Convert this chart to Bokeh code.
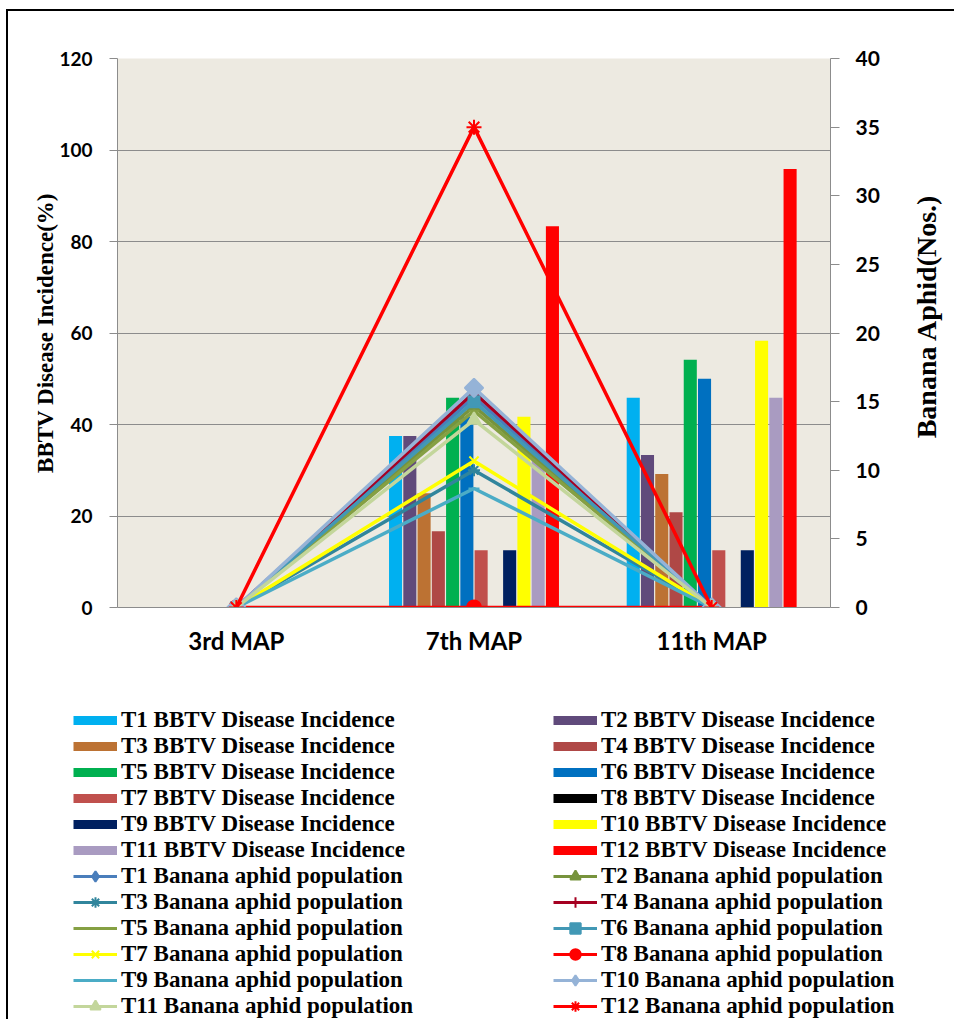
import math
from bokeh.plotting import figure
from bokeh.layouts import column, row
from bokeh.models import (FactorRange, Range1d, LinearAxis, FixedTicker, Legend, LegendItem,
                          ColumnDataSource)
from bokeh.core.properties import value
from bokeh.transform import dodge
from bokeh.embed import file_html
from bokeh.resources import INLINE

# ---------------- data ----------------
categories = ["3rd MAP", "7th MAP", "11th MAP"]
treatments = ["T1", "T2", "T3", "T4", "T5", "T6", "T7", "T8", "T9", "T10", "T11", "T12"]

# BBTV disease incidence (%) per treatment at each stage
incidence_3rd = [0, 0, 0, 0, 0, 0, 0, 0, 0, 0, 0, 0]
incidence_7th = [37.5, 37.5, 25.0, 16.67, 45.83, 41.67, 12.5, 0, 12.5, 41.67, 33.33, 83.33]
incidence_11th = [45.83, 33.33, 29.17, 20.83, 54.17, 50.0, 12.5, 0, 12.5, 58.33, 45.83, 95.83]

# Banana aphid population (Nos.) per treatment at each stage
aphid_3rd = [0, 0, 0, 0, 0, 0, 0, 0, 0, 0, 0, 0]
aphid_7th = [15.33, 14.67, 10.0, 15.67, 14.33, 15.0, 10.67, 0, 8.67, 16.0, 13.67, 35.0]
aphid_11th = [0, 0, 0, 0, 0, 0, 0, 0, 0, 0, 0, 0]

left_ticks = [0, 20, 40, 60, 80, 100, 120]
right_ticks = [0, 5, 10, 15, 20, 25, 30, 35, 40]

left_title = "BBTV Disease Incidence(%)"
right_title = "Banana Aphid(Nos.)"

# ---------------- styles ----------------
bar_colors = ["#00B0F0", "#604A7B", "#BC7233", "#AF4846", "#00B050", "#0070C0",
              "#C0504D", "#000000", "#002060", "#FFFF00", "#A99BC1", "#FF0000"]
line_colors = ["#4A7EBB", "#77933C", "#31859C", "#A50021", "#85A043", "#4298B5",
               "#FFFF00", "#FF0000", "#4BACC6", "#95B3D7", "#C3D69B", "#FF0000"]
markers = ["square", "triangle", "asterisk", "cross", "dash", "square",
           "x", "circle", "dash", "square", "triangle", "asterisk"]
legend_markers = ["diamond", "triangle", "asterisk", "cross", "dash", "square",
                  "x", "circle", "dash", "diamond", "triangle", "asterisk"]
marker_angles = [math.pi / 4, 0, 0, 0, 0, 0, 0, 0, 0, math.pi / 4, 0, 0]
marker_sizes = [11, 13, 12, 12, 11, 11, 13, 14, 11, 13, 13, 15]

# ---------------- main chart ----------------
p = figure(width=892, height=669, x_range=FactorRange(factors=categories, range_padding=0),
           y_range=Range1d(0, 120), output_backend="svg", toolbar_location=None,
           min_border_left=109, min_border_right=70, min_border_top=47, min_border_bottom=73)
p.extra_y_ranges = {"aphid": Range1d(0, 40)}
p.background_fill_color = "#EDEAE1"
p.border_fill_color = "white"
p.outline_line_color = None

p.xgrid.grid_line_color = None
p.ygrid.ticker = FixedTicker(ticks=left_ticks)
p.ygrid.grid_line_color = "#8C8C8C"
p.ygrid.grid_line_width = 1

la = p.yaxis[0]
la.ticker = FixedTicker(ticks=left_ticks)
la.axis_line_color = "#8C8C8C"
la.major_tick_line_color = "#8C8C8C"
la.major_tick_in = 0
la.major_tick_out = 8
la.minor_tick_line_color = None
la.major_label_standoff = 17
la.major_label_text_font = "Lato"
la.major_label_text_font_style = "bold"
la.major_label_text_font_size = "19px"
la.major_label_text_color = "black"
la.axis_label = left_title
la.axis_label_text_font = "Liberation Serif"
la.axis_label_text_font_style = "bold"
la.axis_label_text_font_size = "23px"
la.axis_label_text_color = "black"
la.axis_label_standoff = -2

xa = p.xaxis[0]
xa.axis_line_color = "#8C8C8C"
xa.major_tick_line_color = None
xa.major_label_standoff = 12
xa.major_label_text_font = "Lato"
xa.major_label_text_font_style = "bold"
xa.major_label_text_font_size = "24px"
xa.major_label_text_color = "black"

ra = LinearAxis(y_range_name="aphid", ticker=FixedTicker(ticks=right_ticks))
ra.axis_line_color = "#8C8C8C"
ra.major_tick_line_color = "#8C8C8C"
ra.major_tick_in = 0
ra.major_tick_out = 9
ra.minor_tick_line_color = None
ra.major_label_standoff = 16
ra.major_label_text_font = "Lato"
ra.major_label_text_font_style = "bold"
ra.major_label_text_font_size = "21px"
ra.major_label_text_color = "black"
p.add_layout(ra, "right")

step = 0.06
for i, t in enumerate(treatments):
    src = ColumnDataSource(dict(x=categories,
                                top=[incidence_3rd[i], incidence_7th[i], incidence_11th[i]]))
    p.vbar(x=dodge("x", (i - 5.5) * step, range=p.x_range), top="top", width=0.055,
           source=src, fill_color=bar_colors[i], line_color=None)

for i, t in enumerate(treatments):
    ys = [aphid_3rd[i], aphid_7th[i], aphid_11th[i]]
    p.line(x=categories, y=ys, y_range_name="aphid", line_color=line_colors[i], line_width=3.5)
    p.scatter(x=categories, y=ys, y_range_name="aphid", marker=markers[i], angle=marker_angles[i],
              size=marker_sizes[i], fill_color=line_colors[i], line_color=line_colors[i],
              line_width=2)

# ---------------- right axis title ----------------
tfig = figure(width=54, height=669, x_range=Range1d(0, 54), y_range=Range1d(0, 669),
              output_backend="svg", toolbar_location=None, min_border=0,
              x_axis_location=None, y_axis_location=None)
tfig.grid.grid_line_color = None
tfig.outline_line_color = None
tfig.background_fill_color = "white"
tfig.text(x=[26], y=[355], text=[right_title], angle=math.pi / 2, text_align="center",
          text_baseline="middle", text_font=value("Liberation Serif"), text_font_style="bold",
          text_font_size="28px", text_color="black")

# ---------------- legend ----------------
lfig = figure(width=946, height=339, x_range=Range1d(0, 1), y_range=Range1d(0, 1),
              output_backend="svg", toolbar_location=None, min_border=0,
              x_axis_location=None, y_axis_location=None)
lfig.grid.grid_line_color = None
lfig.outline_line_color = None
lfig.background_fill_color = "white"

# legend proxies sit outside the visible range of this legend-only panel
off = [-5, -4]
all_items = []
for i, t in enumerate(treatments):
    proxy = lfig.line(x=off, y=off, line_color=bar_colors[i], line_width=9)
    all_items.append(LegendItem(label=f"{t} BBTV Disease Incidence", renderers=[proxy]))
for i, t in enumerate(treatments):
    pl = lfig.line(x=off, y=off, line_color=line_colors[i], line_width=3)
    pm = lfig.scatter(x=off, y=off, marker=legend_markers[i],
                      fill_color=line_colors[i], line_color=line_colors[i], line_width=2)
    all_items.append(LegendItem(label=f"{t} Banana aphid population", renderers=[pl, pm]))

left_items = all_items[0::2]
right_items = all_items[1::2]
common = dict(orientation="vertical", glyph_width=44, glyph_height=26, label_height=20,
              spacing=0, padding=0, margin=0, border_line_color=None, background_fill_alpha=0,
              label_text_font="Liberation Serif", label_text_font_style="bold",
              label_text_font_size="23px", label_standoff=4, label_text_color="black")
lfig.add_layout(Legend(items=left_items, location=(65, 0), **common), "center")
lfig.add_layout(Legend(items=right_items, location=(545, 0), **common), "center")

layout = column(row(p, tfig), lfig,
                styles={"margin-left": "6px", "margin-top": "9px",
                        "border-left": "2px solid black", "border-top": "2px solid black"})

open("out.html", "w").write(file_html(layout, INLINE))
